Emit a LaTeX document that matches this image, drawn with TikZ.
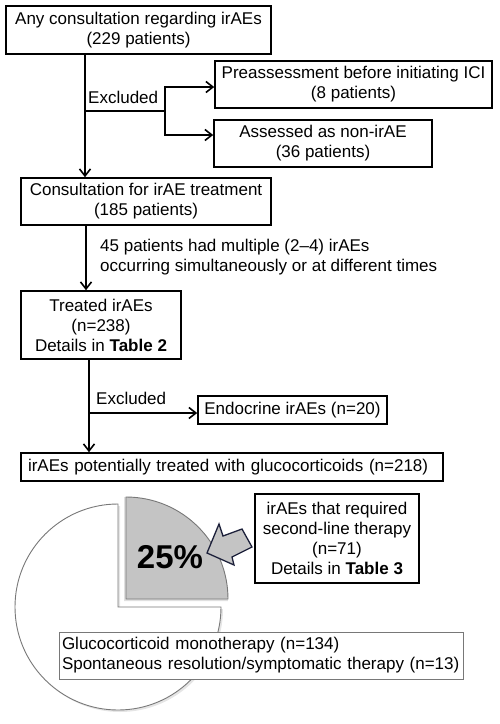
\documentclass[tikz,border=0pt]{standalone}
\usepackage{fontspec}
\setmainfont{Liberation Sans}
\usetikzlibrary{arrows.meta}
\definecolor{piegray}{RGB}{196,196,196}
\definecolor{rimgray}{RGB}{120,120,120}
\definecolor{calloutnavy}{RGB}{28,32,58}

\begin{document}
\begin{tikzpicture}[x=1pt, y=-1pt,
  every node/.style={font=\fontsize{17}{20}\selectfont, inner sep=0pt},
  box/.style={draw, line width=1.6pt, align=center},
  flow/.style={line width=1.6pt, -{Straight Barb[length=7pt,width=11pt]}},
  plain/.style={line width=1.6pt}]
  \useasboundingbox (0,0) rectangle (500,724);

  % Boxes of the flow
  \node[box, minimum width=265, minimum height=48] (any) at (138.5,30)
    {Any consultation regarding irAEs\\(229 patients)};
  \node[box, minimum width=277, minimum height=47] (pre) at (353.5,84.5)
    {Preassessment before initiating ICI\\(8 patients)};
  \node[box, minimum width=218, minimum height=47] (nonirae) at (323,143.5)
    {Assessed as non-irAE\\(36 patients)};
  \node[box, minimum width=250, minimum height=47] (consult) at (146,201.5)
    {Consultation for irAE treatment\\(185 patients)};
  \node[box, minimum width=160, minimum height=68] (treated) at (101,325)
    {Treated irAEs\\(n=238)\\Details in \textbf{Table 2}};
  \node[box, minimum width=189, minimum height=28] (endo) at (292.5,410)
    {Endocrine irAEs (n=20)};
  \node[box, text width=408, inner xsep=7pt, minimum height=28, align=left] (gluco) at (232,467)
    {irAEs potentially treated with glucocorticoids (n=218)};

  % Labels beside the trunk
  \node[anchor=west] (excl1) at (88,97) {Excluded};
  \node[anchor=west, align=left] (multi) at (100,257)
    {45 patients had multiple (2--4) irAEs\\occurring simultaneously or at different times};
  \node[anchor=west] (excl2) at (96,398) {Excluded};

  % Branch points
  \coordinate (s1) at (85,111);
  \coordinate (f1) at (165,111);
  \coordinate (m1) at (86,257);
  \coordinate (s2) at (89,413);

  % Trunk and exclusions
  \draw[flow] (any.south -| s1) -- (consult.north -| s1);
  \draw[plain] (s1) -- (f1);
  \draw[flow] (f1) |- ([yshift=-2.5pt]pre.west);
  \draw[flow] (f1) |- ([yshift=8.5pt]nonirae.west);
  \draw[flow] (consult.south -| m1) -- (treated.north -| m1);
  \draw[flow] (treated.south -| s2) -- (gluco.north -| s2);
  \draw[flow] (s2) -- (s2 -| endo.west);

  % Pie: three quarters and the pulled-out quarter
  \fill[black!10] (120,609) -- (120,506) arc[start angle=-90, end angle=-360, radius=103] -- cycle;
  \draw[rimgray, line width=0.9pt, fill=white] (118,607) -- (118,504)
    arc[start angle=-90, end angle=-360, radius=103] -- cycle;
  \fill[black!12] (124,601) -- (228,601) arc[start angle=0, end angle=-90, radius=104] -- cycle;
  \draw[rimgray, line width=0.9pt, fill=piegray] (126,599) -- (228,599)
    arc[start angle=0, end angle=-90, radius=102] -- cycle;
  \node[font=\fontsize{33}{36}\selectfont\bfseries] (pct) at (170,557) {25\%};

  % Callout arrow
  \draw[calloutnavy, line width=1.3pt, fill=piegray, line join=miter]
    (207,553) -- (219,524) -- (223,536) -- (242,529) -- (252,547)
    -- (232,557) -- (234,565) -- cycle;

  \node[box, minimum width=164, minimum height=89] (second) at (337,538.5)
    {irAEs that required\\second-line therapy\\(n=71)\\Details in \textbf{Table 3}};
  \node[draw=rimgray, line width=1pt, fill=white, text width=398, inner xsep=3pt,
    minimum height=47, align=left] (mono) at (261,655.5)
    {Glucocorticoid monotherapy (n=134)\\Spontaneous resolution/symptomatic therapy (n=13)};
\end{tikzpicture}
\end{document}
